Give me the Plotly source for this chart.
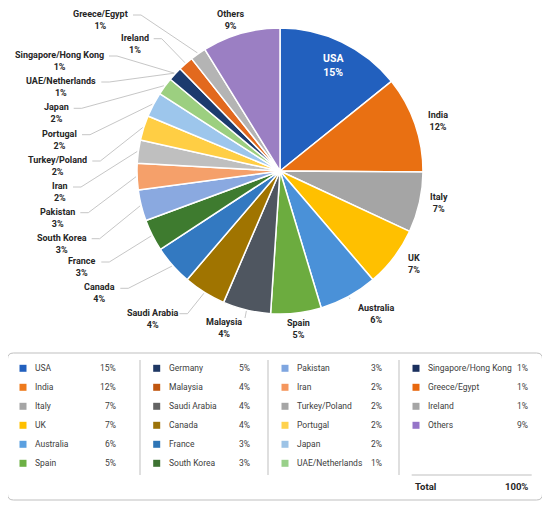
import math
import plotly.graph_objects as go

# slices as they are drawn in the pie (share of the circle)
slice_names = ["USA", "India", "Italy", "UK", "Australia", "Spain", "Saudi Arabia", "Canada",
               "France", "South Korea", "Pakistan", "Iran", "Turkey/Poland", "Portugal", "Japan",
               "UAE/Netherlands", "Singapore/Hong Kong", "Greece/Egypt", "Ireland", "Others"]
slice_values = [14.2, 10.9, 6.8, 6.8, 6.6, 5.7, 5.4, 4.8, 4.5, 3.6, 3.5, 3.0, 2.6, 2.8, 2.8,
                2.0, 1.6, 1.7, 1.8, 8.8]
slice_colors = ["#2260BE", "#E97012", "#A5A5A5", "#FFC000", "#4A91D8", "#6CAC3F", "#4F5660",
                "#A07400", "#3379C1", "#3E7B2F", "#8AA9E0", "#F5A06A", "#BFBFBF", "#FFCE44",
                "#9DC6EC", "#9CCF80", "#1C3A6E", "#E2691E", "#B4B4B4", "#9B7FC3"]

# labels printed round the pie, and the slice each one points at
label_names = ["USA", "India", "Italy", "UK", "Australia", "Spain", "Malaysia", "Saudi Arabia",
               "Canada", "France", "South Korea", "Pakistan", "Iran", "Turkey/Poland", "Portugal",
               "Japan", "UAE/Netherlands", "Singapore/Hong Kong", "Ireland", "Greece/Egypt", "Others"]
label_pcts = ["15%", "12%", "7%", "7%", "6%", "5%", "4%", "4%", "4%", "3%", "3%", "3%", "2%",
              "2%", "2%", "2%", "1%", "1%", "1%", "1%", "9%"]
label_slice = [0, 1, 2, 3, 4, 5, 6, 7, 8, 9, 10, 11, 12, 13, 14, 15, 16, 16, 17, 18, 19]

# legend table
legend_names = ["USA", "India", "Italy", "UK", "Australia", "Spain",
                "Germany", "Malaysia", "Saudi Arabia", "Canada", "France", "South Korea",
                "Pakistan", "Iran", "Turkey/Poland", "Portugal", "Japan", "UAE/Netherlands",
                "Singapore/Hong Kong", "Greece/Egypt", "Ireland", "Others"]
legend_pcts = ["15%", "12%", "7%", "7%", "6%", "5%",
               "5%", "4%", "4%", "4%", "3%", "3%",
               "3%", "2%", "2%", "2%", "2%", "1%",
               "1%", "1%", "1%", "9%"]
legend_colors = ["#2260BE", "#EE7A1C", "#A5A5A5", "#FFC000", "#5BA0E0", "#6DB045",
                 "#1F3864", "#C0560F", "#636363", "#9C7308", "#2E75B6", "#3D7232",
                 "#7FA6E0", "#F5975E", "#A5A5A5", "#FFD24D", "#9DC3E6", "#99D08A",
                 "#1A2F5E", "#E8680E", "#A5A5A5", "#9575C8"]
total_label = "Total"
total_pct = "100%"

W, H = 550, 506
OFF = 8  # the page body margin pushes the plot by 8px
CX, CY, R = 280, 171, 143
FONT = "Roboto"
LINE_H = 11.7

# label placement: (x, y of first line, anchor, leader style)
label_layout = [
    (333.7, 58.3, "center", None), (438.3, 115, "center", None),
    (438.8, 197.3, "center", None), (414, 257.7, "center", None),
    (375.8, 308.3, "center", (350, 299)), (298.3, 323.3, "center", None),
    (223.7, 321.7, "center", (245, 318)), (152.5, 312.7, "center", "stub"),
    (117.3, 287.3, "right", "stub"), (98.3, 261, "right", "stub"),
    (88.7, 237.7, "right", "stub"), (77.3, 211.7, "right", "stub"),
    (70, 186, "right", "stub"), (89.3, 160, "right", "stub"),
    (79, 133.7, "right", "stub"), (70.7, 107.3, "right", "stub"),
    (98.3, 81, "right", "stub"), (106, 55, "right", "stub"),
    (150.7, 37.7, "right", "stub"), (130, 14, "right", "stub"),
    (230.3, 14, "center", None),
]

fig = go.Figure()

fw, fh = W - OFF, H - OFF
fig.add_trace(go.Pie(
    values=slice_values, labels=slice_names, sort=False, direction="clockwise", rotation=0,
    marker=dict(colors=slice_colors, line=dict(color="white", width=1.5)),
    textinfo="none", hoverinfo="label+percent", showlegend=False,
    domain=dict(x=[(CX - R - OFF) / fw, (CX + R - OFF) / fw],
                y=[(H - CY - R) / fh, (H - CY + R) / fh]),
))

# slice edge points at mid angle
total = sum(slice_values)
edge = []
cum = 0
for v in slice_values:
    a = math.radians(360 * (cum + v / 2) / total)
    edge.append((CX + (R + 1) * math.sin(a), CY - (R + 1) * math.cos(a)))
    cum += v

annotations = []
lx, ly = [], []
for i, (name, pct) in enumerate(zip(label_names, label_pcts)):
    x, y, anchor, leader = label_layout[i]
    white = i == 0
    annotations.append(dict(
        x=x, y=y + (13.4 if white else LINE_H) / 2, xref="x", yref="y",
        text=f"<b>{name}<br>{pct}</b>", showarrow=False, xanchor=anchor, yanchor="middle",
        align="center", font=dict(family=FONT, size=10.5 if white else 9,
                                  color="white" if white else "#262626"),
    ))
    ex, ey = edge[label_slice[i]]
    if leader == "stub":
        if anchor == "right":
            sx = x + 3
        else:
            sx = x + 27
        lx += [sx, sx + 8, ex, None]
        ly += [y + 1, y + 1, ey, None]
    elif leader is not None:
        lx += [leader[0], ex, None]
        ly += [leader[1], ey, None]

fig.add_trace(go.Scatter(x=lx, y=ly, mode="lines", line=dict(color="#BFBFBF", width=0.9),
                         hoverinfo="skip", showlegend=False))

# legend table
col_sq = [23, 156.7, 285, 416]
col_val = [118, 251.7, 384.3, 530]
row0, row_h = 368.3, 19
sq_x, sq_y = [], []
for k, (name, pct) in enumerate(zip(legend_names, legend_pcts)):
    c, r = k // 6, k % 6
    yy = row0 + r * row_h
    sq_x.append(col_sq[c])
    sq_y.append(yy)
    annotations.append(dict(x=col_sq[c] + 10, y=yy, xref="x", yref="y", text=name,
                            showarrow=False, xanchor="left", yanchor="middle",
                            font=dict(family=FONT, size=8.5, color="#404040")))
    annotations.append(dict(x=col_val[c], y=yy, xref="x", yref="y", text=pct,
                            showarrow=False, xanchor="right", yanchor="middle",
                            font=dict(family=FONT, size=8.5, color="#404040")))
fig.add_trace(go.Scatter(x=sq_x, y=sq_y, mode="markers",
                         marker=dict(symbol="square", size=7, color=legend_colors, line=dict(width=0)),
                         hoverinfo="skip", showlegend=False))

annotations.append(dict(x=413, y=486.7, xref="x", yref="y", text=f"<b>{total_label}</b>",
                        showarrow=False, xanchor="left", yanchor="middle",
                        font=dict(family=FONT, size=9.5, color="#262626")))
annotations.append(dict(x=530, y=486.7, xref="x", yref="y", text=f"<b>{total_pct}</b>",
                        showarrow=False, xanchor="right", yanchor="middle",
                        font=dict(family=FONT, size=9.5, color="#262626")))

x0, y0, x1, y1, rr = 7.5, 353, 542.5, 500, 6
box = (f"M{x0 + rr},{y0} L{x1 - rr},{y0} Q{x1},{y0} {x1},{y0 + rr} L{x1},{y1 - rr} "
       f"Q{x1},{y1} {x1 - rr},{y1} L{x0 + rr},{y1} Q{x0},{y1} {x0},{y1 - rr} "
       f"L{x0},{y0 + rr} Q{x0},{y0} {x0 + rr},{y0} Z")
shapes = [dict(type="path", path=box, xref="x", yref="y", line=dict(color="#BFBFBF", width=1),
               layer="below")]
for sx in [140, 268, 399]:
    shapes.append(dict(type="line", x0=sx, x1=sx, y0=360, y1=475, xref="x", yref="y",
                       line=dict(color="#BFBFBF", width=1)))
shapes.append(dict(type="line", x0=411.7, x1=531.7, y0=475, y1=475, xref="x", yref="y",
                   line=dict(color="#BFBFBF", width=1)))

fig.update_layout(
    width=fw, height=fh, margin=dict(l=0, r=0, t=0, b=0),
    paper_bgcolor="white", plot_bgcolor="white", showlegend=False,
    xaxis=dict(range=[OFF, W], visible=False, fixedrange=True),
    yaxis=dict(range=[H, OFF], visible=False, fixedrange=True),
    annotations=annotations, shapes=shapes,
)

fig.write_html("out.html")
